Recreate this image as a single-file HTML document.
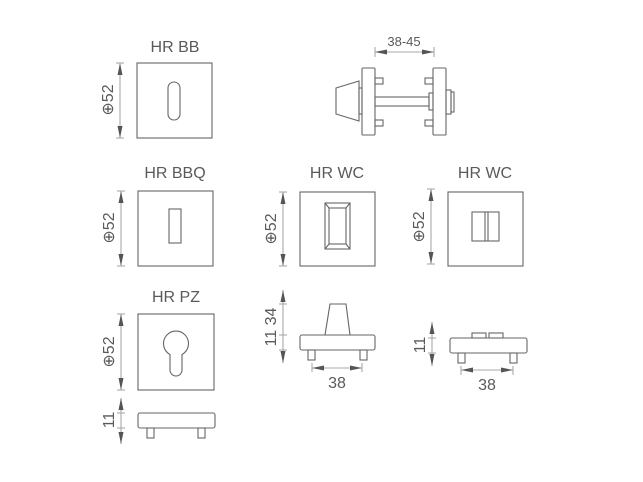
<!DOCTYPE html>
<html><head><style>
body{margin:0;background:#fff;}
svg{display:block;}
text{font-family:"Liberation Sans","DejaVu Sans",sans-serif;fill:#5a5a5a;}
</style></head><body>
<svg width="643" height="482" viewBox="0 0 643 482" xmlns="http://www.w3.org/2000/svg">
<defs>
<marker id="a" viewBox="0 0 12 5" refX="12" refY="2.5" markerWidth="12" markerHeight="5" markerUnits="userSpaceOnUse" orient="auto-start-reverse"><path d="M0,0 L12,2.5 L0,5z" fill="#555"/></marker>
</defs>
<g fill="none" stroke="#666" stroke-width="1.1">
<rect x="137" y="63" width="75" height="75"/>
<rect x="168" y="82" width="12" height="38" rx="6"/>
<line x1="120" y1="63" x2="120" y2="138" stroke="#aaa" marker-start="url(#a)" marker-end="url(#a)"/>
<line x1="116" y1="63" x2="124" y2="63" stroke="#aaa"/><line x1="116" y1="138" x2="124" y2="138" stroke="#aaa"/>
<line x1="375" y1="52" x2="434" y2="52" stroke="#aaa" marker-start="url(#a)" marker-end="url(#a)"/>
<line x1="375" y1="47" x2="375" y2="57" stroke="#aaa"/><line x1="434" y1="47" x2="434" y2="57" stroke="#aaa"/>
<path d="M336,88 L359,81 L359,121 L336,114z"/>
<rect x="359" y="88" width="3" height="26"/>
<rect x="362" y="68" width="13" height="67" rx="1"/>
<rect x="375" y="78" width="8" height="6"/><rect x="375" y="120" width="8" height="6"/>
<rect x="375" y="97" width="54" height="9"/>
<rect x="429" y="93" width="4" height="17"/>
<rect x="433" y="68" width="13" height="67" rx="1"/>
<rect x="425" y="78" width="8" height="6"/><rect x="425" y="120" width="8" height="6"/>
<rect x="446" y="90" width="5" height="24"/><rect x="451" y="92" width="3" height="20"/>
<rect x="138" y="191" width="75" height="75"/>
<rect x="169" y="209" width="12" height="34"/>
<line x1="121" y1="191" x2="121" y2="266" stroke="#aaa" marker-start="url(#a)" marker-end="url(#a)"/>
<line x1="117" y1="191" x2="125" y2="191" stroke="#aaa"/><line x1="117" y1="266" x2="125" y2="266" stroke="#aaa"/>
<rect x="300" y="192" width="75" height="74"/>
<rect x="325" y="203" width="25" height="46"/>
<rect x="329" y="208" width="17" height="36"/>
<path d="M325,203 L329,208 M350,203 L346,208 M325,249 L329,244 M350,249 L346,244"/>
<line x1="283" y1="192" x2="283" y2="266" stroke="#aaa" marker-start="url(#a)" marker-end="url(#a)"/>
<line x1="279" y1="192" x2="287" y2="192" stroke="#aaa"/><line x1="279" y1="266" x2="287" y2="266" stroke="#aaa"/>
<rect x="448" y="192" width="75" height="74"/>
<rect x="472" y="212" width="27" height="29"/>
<line x1="485" y1="212" x2="485" y2="241"/><line x1="488" y1="212" x2="488" y2="241"/>
<line x1="431" y1="189" x2="431" y2="264" stroke="#aaa" marker-start="url(#a)" marker-end="url(#a)"/>
<line x1="427" y1="189" x2="435" y2="189" stroke="#aaa"/><line x1="427" y1="264" x2="435" y2="264" stroke="#aaa"/>
<rect x="138" y="314" width="76" height="76"/>
<path d="M170,354.5 A12.5,12.5 0 1 1 182,354.5 L182,370 A6,6 0 0 1 170,370 Z"/>
<line x1="121" y1="314" x2="121" y2="390" stroke="#aaa" marker-start="url(#a)" marker-end="url(#a)"/>
<line x1="117" y1="314" x2="125" y2="314" stroke="#aaa"/><line x1="117" y1="390" x2="125" y2="390" stroke="#aaa"/>
<rect x="138" y="413" width="77" height="15" rx="2"/>
<rect x="147" y="428" width="7" height="10"/><rect x="198" y="428" width="7" height="10"/>
<line x1="121" y1="398" x2="121" y2="444" stroke="#aaa" marker-start="url(#a)" marker-end="url(#a)"/>
<line x1="117" y1="413" x2="125" y2="413" stroke="#aaa"/><line x1="117" y1="428" x2="125" y2="428" stroke="#aaa"/>
<path d="M325,335 L330,304 L346,304 L350,335"/>
<rect x="300" y="335" width="75" height="15" rx="2"/>
<rect x="308" y="350" width="7" height="10"/><rect x="360" y="350" width="7" height="10"/>
<line x1="312" y1="368" x2="362" y2="368" stroke="#aaa" marker-start="url(#a)" marker-end="url(#a)"/>
<line x1="312" y1="363" x2="312" y2="372" stroke="#aaa"/><line x1="362" y1="363" x2="362" y2="372" stroke="#aaa"/>
<line x1="283" y1="290" x2="283" y2="363" stroke="#aaa" marker-start="url(#a)" marker-end="url(#a)"/>
<line x1="279" y1="304" x2="287" y2="304" stroke="#aaa"/><line x1="279" y1="335" x2="287" y2="335" stroke="#aaa"/><line x1="279" y1="350" x2="287" y2="350" stroke="#aaa"/>
<rect x="450" y="338" width="77" height="15" rx="2"/>
<rect x="472" y="333" width="14" height="5"/><rect x="489" y="333" width="14" height="5"/>
<rect x="458" y="353" width="7" height="10"/><rect x="510" y="353" width="7" height="10"/>
<line x1="461" y1="370" x2="513" y2="370" stroke="#aaa" marker-start="url(#a)" marker-end="url(#a)"/>
<line x1="461" y1="366" x2="461" y2="375" stroke="#aaa"/><line x1="513" y1="366" x2="513" y2="375" stroke="#aaa"/>
<line x1="432" y1="322" x2="432" y2="366" stroke="#aaa" marker-start="url(#a)" marker-end="url(#a)"/>
<line x1="428" y1="338" x2="436" y2="338" stroke="#aaa"/><line x1="428" y1="353" x2="436" y2="353" stroke="#aaa"/>
</g>
<g font-size="16">
<text x="175" y="52" text-anchor="middle">HR BB</text>
<text x="404" y="46" text-anchor="middle" font-size="13">38-45</text>
<text x="175" y="178" text-anchor="middle">HR BBQ</text>
<text x="337" y="178" text-anchor="middle">HR WC</text>
<text x="485" y="178" text-anchor="middle">HR WC</text>
<text x="176" y="302" text-anchor="middle">HR PZ</text>
<text x="337" y="388" text-anchor="middle">38</text>
<text x="487" y="390" text-anchor="middle">38</text>
<text transform="translate(113,100) rotate(-90)" text-anchor="middle">⊕52</text>
<text transform="translate(114,228) rotate(-90)" text-anchor="middle">⊕52</text>
<text transform="translate(276,229) rotate(-90)" text-anchor="middle">⊕52</text>
<text transform="translate(424,227) rotate(-90)" text-anchor="middle">⊕52</text>
<text transform="translate(114,352) rotate(-90)" text-anchor="middle">⊕52</text>
<text transform="translate(114,420) rotate(-90)" text-anchor="middle">11</text>
<text transform="translate(276,327) rotate(-90)" text-anchor="middle">11 34</text>
<text transform="translate(425,345) rotate(-90)" text-anchor="middle">11</text>
</g>
</svg>
</body></html>
